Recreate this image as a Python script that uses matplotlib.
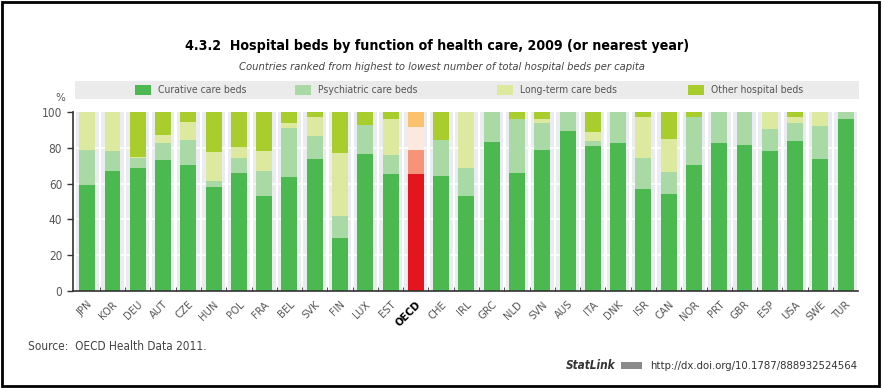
import numpy as np
import matplotlib
matplotlib.use("Agg")
import matplotlib.pyplot as plt
from matplotlib.patches import Rectangle

# data (share of total hospital beds, %)
countries = ["JPN", "KOR", "DEU", "AUT", "CZE", "HUN", "POL", "FRA", "BEL", "SVK",
             "FIN", "LUX", "EST", "OECD", "CHE", "IRL", "GRC", "NLD", "SVN", "AUS",
             "ITA", "DNK", "ISR", "CAN", "NOR", "PRT", "GBR", "ESP", "USA", "SWE", "TUR"]
curative = [59, 67, 69, 73, 70.5, 58, 66, 53, 63.5, 74,
            29.5, 76.5, 65.5, 65.5, 64.5, 53, 83.5, 66, 79, 89.5,
            81, 83, 57, 54.5, 70.5, 82.5, 81.5, 78, 84, 74, 96]
psychiatric = [20, 11, 5.5, 10, 14, 3.5, 8.5, 14, 27.5, 12.5,
               12.5, 16.5, 10.5, 13.5, 20, 16, 16.5, 30, 15, 10.5,
               3, 17, 17.5, 12, 26.5, 17.5, 18.5, 12.5, 10, 18.5, 4]
long_term = [21, 22, 0.5, 4, 10, 16, 6, 11, 3, 10.5,
             35, 0, 20, 12.5, 0, 31, 0, 0, 2, 0,
             5, 0, 23, 18.5, 0, 0, 0, 9.5, 3, 7.5, 0]
other = [0, 0, 25, 13, 5.5, 22.5, 19.5, 22, 6, 3,
         23, 7, 4, 8.5, 15.5, 0, 0, 4, 4, 0,
         11, 0, 2.5, 15, 3, 0, 0, 0, 3, 0, 0]
series_names = ["Curative care beds", "Psychiatric care beds",
                "Long-term care beds", "Other hospital beds"]

green_cols = ["#4cb850", "#a9d9a5", "#dce99f", "#a9cd2c"]
oecd_cols = ["#e2161c", "#f79477", "#fde8e0", "#fbc26b"]
grey_txt = "#555555"
font = dict(family="DejaVu Sans", stretch="condensed")

fig = plt.figure(figsize=(8.83, 3.88), dpi=100)
ax = fig.add_axes([0.083, 0.25, 0.889, 0.461])

x = np.arange(len(countries))
# light grey column behind each bar
ax.bar(x, 100, width=0.9, color="#eaecf1", zorder=0)
for yv in [20, 40, 60, 80]:
    ax.axhline(yv, color="white", lw=1.2, zorder=1)

data = [curative, psychiatric, long_term, other]
bottom = np.zeros(len(countries))
for i, vals in enumerate(data):
    cols = [oecd_cols[i] if c == "OECD" else green_cols[i] for c in countries]
    ax.bar(x, vals, bottom=bottom, width=0.63, color=cols, zorder=2)
    bottom += np.array(vals)

ax.set_xlim(-0.55, len(countries) - 0.5)
ax.set_ylim(0, 100)
ax.set_yticks([0, 20, 40, 60, 80, 100])
ax.set_yticklabels([str(v) for v in [0, 20, 40, 60, 80, 100]], fontsize=8.5,
                   color=grey_txt, **font)
ax.tick_params(axis="y", length=4, width=1, colors="#333333", labelcolor=grey_txt, pad=4)
ax.set_xticks(x)
ax.set_xticklabels(countries, rotation=45, ha="right", rotation_mode="anchor",
                   fontsize=8, color=grey_txt, **font)
for lab in ax.get_xticklabels():
    if lab.get_text() == "OECD":
        lab.set_fontweight("bold")
        lab.set_color("black")
ax.tick_params(axis="x", length=0, pad=6)
# small ticks between categories
ax.set_xticks(x[:-1] + 0.5, minor=True)
ax.tick_params(axis="x", which="minor", length=3, direction="in", color="#333333")
for s in ["top", "right"]:
    ax.spines[s].set_visible(False)
for s in ["left", "bottom"]:
    ax.spines[s].set_color("#333333")
    ax.spines[s].set_linewidth(1.2)

# titles
fig.text(0.495, 0.882, "4.3.2  Hospital beds by function of health care, 2009 (or nearest year)",
         ha="center", va="center", fontsize=10.2, fontweight="bold", **font)
fig.text(0.501, 0.828, "Countries ranked from highest to lowest number of total hospital beds per capita",
         ha="center", va="center", fontsize=8, style="italic", color="#444444", **font)

# legend band
fig.patches.append(Rectangle((0.085, 0.745), 0.888, 0.046, transform=fig.transFigure,
                             facecolor="#ebebeb", edgecolor="none"))
leg_x = [0.153, 0.334, 0.563, 0.779]
for lx, name, col in zip(leg_x, series_names, green_cols):
    fig.patches.append(Rectangle((lx, 0.755), 0.018, 0.027, transform=fig.transFigure,
                                 facecolor=col, edgecolor="none"))
    fig.text(lx + 0.026, 0.768, name, ha="left", va="center", fontsize=7.5,
             color=grey_txt, **font)
fig.text(0.068, 0.748, "%", ha="center", va="center", fontsize=7.5, color=grey_txt)

# footer
fig.text(0.032, 0.106, "Source:  OECD Health Data 2011.", ha="left", va="center",
         fontsize=8.5, color="#444444", **font)
fig.text(0.697, 0.057, "StatLink", ha="right", va="center", fontsize=8.5,
         fontweight="bold", style="italic", color="#333333", **font)
fig.patches.append(Rectangle((0.703, 0.048), 0.024, 0.018, transform=fig.transFigure,
                             facecolor="#8a8a8a", edgecolor="none"))
fig.text(0.971, 0.057, "http://dx.doi.org/10.1787/888932524564", ha="right", va="center",
         fontsize=8.1, color="#333333", **font)

# outer frame
fig.patches.append(Rectangle((0.002, 0.005), 0.994, 0.99, transform=fig.transFigure,
                             facecolor="none", edgecolor="black", lw=2))

fig.savefig("out.png", dpi=100)
